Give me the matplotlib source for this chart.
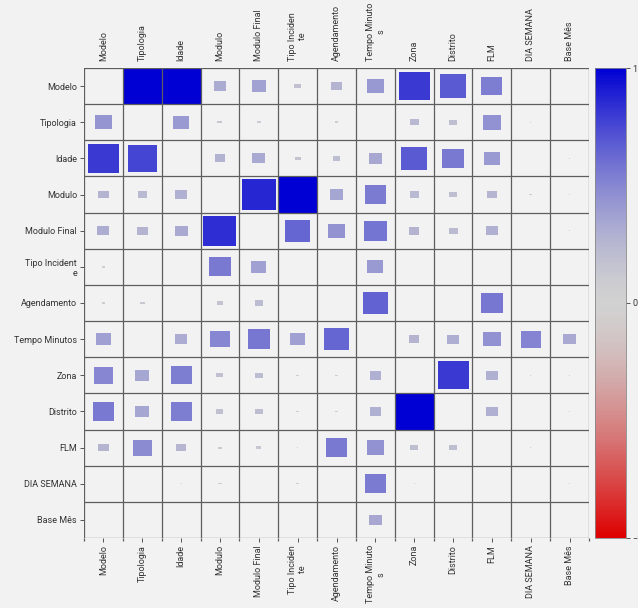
import numpy as np
import matplotlib.pyplot as plt
from matplotlib.colors import LinearSegmentedColormap, Normalize
from matplotlib.patches import Rectangle
from matplotlib.cm import ScalarMappable

plt.rcParams['font.family'] = ['Roboto', 'DejaVu Sans']

columns = ['Modelo', 'Tipologia', 'Idade', 'Modulo', 'Modulo Final',
           'Tipo Incidente', 'Agendamento', 'Tempo Minutos', 'Zona',
           'Distrito', 'FLM', 'DIA SEMANA', 'Base Mês']
x_labels = ['Modelo', 'Tipologia', 'Idade', 'Modulo', 'Modulo Final',
            'Tipo Inciden\nte', 'Agendamento', 'Tempo Minuto\ns', 'Zona',
            'Distrito', 'FLM', 'DIA SEMANA', 'Base Mês']
y_labels = ['Modelo', 'Tipologia', 'Idade', 'Modulo', 'Modulo Final',
            'Tipo Incident\ne', 'Agendamento', 'Tempo Minutos', 'Zona',
            'Distrito', 'FLM', 'DIA SEMANA', 'Base Mês']

# association of row variable with column variable (diagonal left empty)
values = [
    [0.00, 1.00, 1.00, 0.32, 0.37, 0.18, 0.27, 0.42, 0.80, 0.68, 0.54, 0.00, 0.00],
    [0.43, 0.00, 0.41, 0.13, 0.10, 0.00, 0.10, 0.00, 0.24, 0.20, 0.45, 0.03, 0.00],
    [0.80, 0.76, 0.00, 0.28, 0.33, 0.16, 0.20, 0.34, 0.68, 0.56, 0.41, 0.00, 0.03],
    [0.27, 0.24, 0.29, 0.00, 0.87, 1.00, 0.35, 0.55, 0.24, 0.20, 0.26, 0.09, 0.03],
    [0.31, 0.27, 0.33, 0.85, 0.00, 0.64, 0.44, 0.58, 0.27, 0.23, 0.29, 0.00, 0.03],
    [0.08, 0.00, 0.00, 0.56, 0.38, 0.00, 0.03, 0.41, 0.00, 0.00, 0.03, 0.00, 0.03],
    [0.08, 0.12, 0.00, 0.16, 0.22, 0.03, 0.00, 0.65, 0.00, 0.00, 0.57, 0.03, 0.00],
    [0.38, 0.00, 0.32, 0.50, 0.57, 0.38, 0.64, 0.00, 0.27, 0.30, 0.45, 0.51, 0.33],
    [0.50, 0.35, 0.54, 0.18, 0.21, 0.08, 0.08, 0.29, 0.00, 0.80, 0.29, 0.03, 0.03],
    [0.56, 0.35, 0.54, 0.18, 0.21, 0.08, 0.08, 0.29, 1.00, 0.00, 0.29, 0.00, 0.03],
    [0.27, 0.48, 0.25, 0.12, 0.13, 0.03, 0.56, 0.45, 0.20, 0.20, 0.00, 0.03, 0.00],
    [0.00, 0.00, 0.03, 0.08, 0.00, 0.08, 0.00, 0.55, 0.03, 0.00, 0.00, 0.00, 0.03],
    [0.00, 0.03, 0.03, 0.00, 0.03, 0.03, 0.03, 0.34, 0.03, 0.00, 0.03, 0.00, 0.00],
]

bg = '#f2f2f2'

# red -> grey -> blue, eased so low values stay pale
grey = np.array([0.82, 0.82, 0.82])
red = np.array([0.87, 0.0, 0.0])
blue = np.array([0.0, 0.0, 0.83])
t = np.linspace(0, 1, 21)
ease = t ** 1.5
neg = [(0.5 - 0.5 * s, tuple(grey + (red - grey) * e)) for s, e in zip(t, ease)]
pos = [(0.5 + 0.5 * s, tuple(grey + (blue - grey) * e)) for s, e in zip(t, ease)]
nodes = sorted(neg[1:] + pos)
cmap = LinearSegmentedColormap.from_list('rgb', nodes)
norm = Normalize(-1, 1)

fig = plt.figure(figsize=(6.38, 6.08), dpi=100, facecolor=bg)
ax = fig.add_axes([84 / 638, 1 - 538 / 608, 505 / 638, 470 / 608], facecolor=bg)
cax = fig.add_axes([595 / 638, 1 - 538 / 608, 31 / 638, 470 / 608])

n = len(columns)
for i, row in enumerate(values):
    for j, v in enumerate(row):
        if v <= 0:
            continue
        w = v
        h = max(v - 0.08 * (1 - v), 0.5 * v)
        ax.add_patch(Rectangle((j - w / 2, i - h / 2), w, h,
                               facecolor=cmap(norm(v)), edgecolor='none'))

ax.set_xlim(-0.5, n - 0.5)
ax.set_ylim(n - 0.5, -0.5)

ax.set_xticks(range(n))
ax.set_yticks(range(n))
ax.set_xticklabels(x_labels, rotation=90, fontsize=6.5, color='#333333')
ax.set_yticklabels(y_labels, fontsize=6.5, color='#333333',
                   multialignment='right')
ax.set_xticks(np.arange(-0.5, n), minor=True)
ax.set_yticks(np.arange(-0.5, n), minor=True)
ax.grid(which='minor', color='#5e5e5e', linewidth=0.9)
ax.tick_params(which='major', length=3, width=0.7, color='#555555', pad=2,
               top=False, labeltop=True, bottom=True, labelbottom=True)
ax.tick_params(which='minor', length=2, width=0.9, color='#5e5e5e',
               left=False, top=False)
for s in ax.spines.values():
    s.set_visible(False)

cb = fig.colorbar(ScalarMappable(norm=norm, cmap=cmap), cax=cax, ticks=[-1, 0, 1])
cb.outline.set_edgecolor('#888888')
cb.outline.set_linewidth(0.6)
cb.ax.tick_params(labelsize=6.5, length=3, width=0.7, color='#555555',
                  labelcolor='#333333', pad=1.5)

fig.savefig('out.png', dpi=100, facecolor=bg)
